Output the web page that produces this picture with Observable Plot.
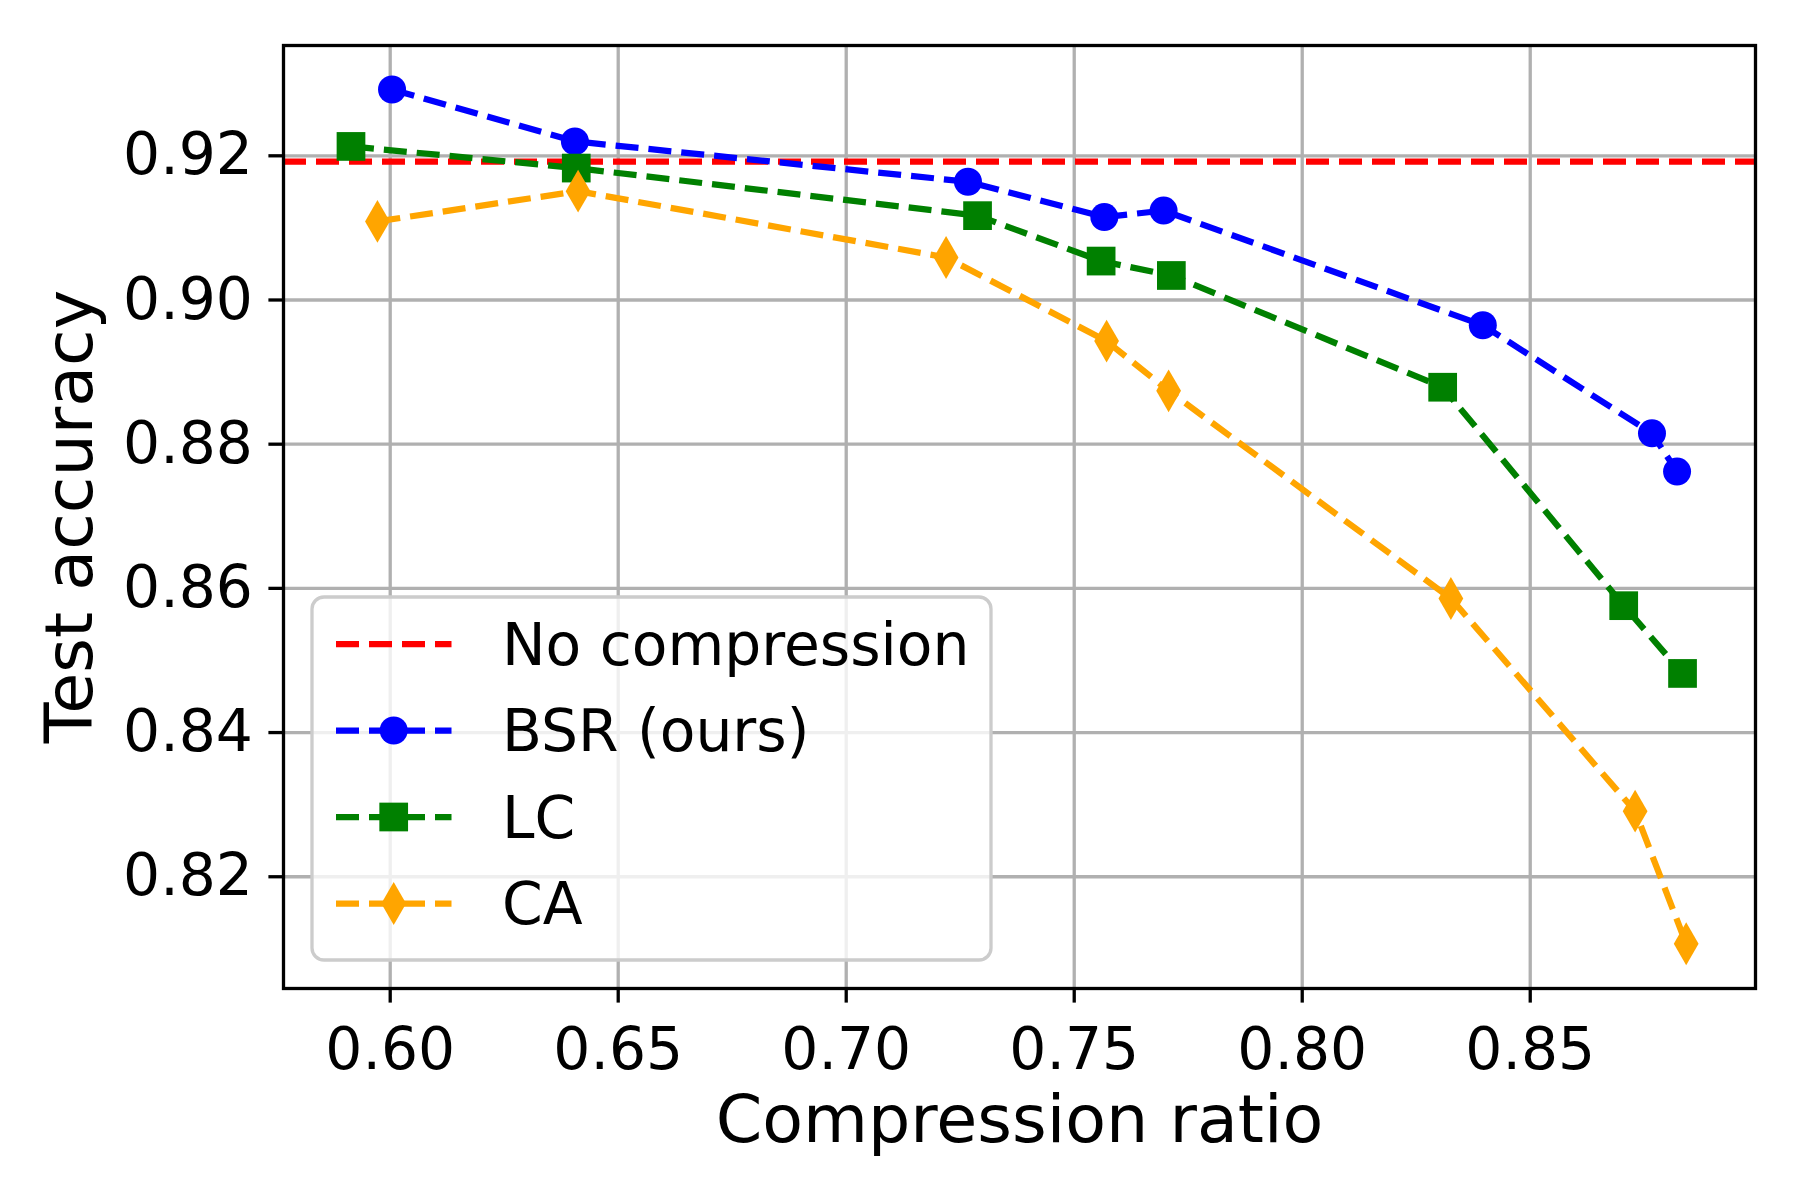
<!DOCTYPE html>
<html>
<head>
<meta charset="utf-8">
<script src="https://cdn.jsdelivr.net/npm/d3@7"></script>
<script src="https://cdn.jsdelivr.net/npm/@observablehq/plot@0.6"></script>
<style>
  html, body { margin: 0; padding: 0; background: #ffffff; }
  #chart { width: 1800px; height: 1200px; }
</style>
</head>
<body>
<div id="chart"></div>
<script>
// ---- Data ----
const seriesNames = ["BSR (ours)", "LC", "CA"];
const baselineName = "No compression";

const bsrX = [0.6004, 0.6405, 0.7267, 0.7566, 0.7696, 0.8396, 0.8767, 0.8822];
const bsrY = [0.9292, 0.9220, 0.9164, 0.9115, 0.9124, 0.8965, 0.8815, 0.8762];

const lcX = [0.5914, 0.6408, 0.7288, 0.7559, 0.7713, 0.8308, 0.8705, 0.8834];
const lcY = [0.9213, 0.9183, 0.9117, 0.9054, 0.9034, 0.8879, 0.8576, 0.8482];

const caX = [0.5972, 0.6412, 0.7219, 0.7571, 0.7707, 0.8326, 0.8730, 0.8842];
const caY = [0.9109, 0.9151, 0.9059, 0.8943, 0.8874, 0.8586, 0.8291, 0.8107];

const baselineY = 0.9192;

const xTicks = [0.60, 0.65, 0.70, 0.75, 0.80, 0.85];
const yTicks = [0.82, 0.84, 0.86, 0.88, 0.90, 0.92];

const xLabel = "Compression ratio";
const yLabel = "Test accuracy";

// ---- Styles ----
const colors = {"BSR (ours)": "#0000ff", "LC": "#008000", "CA": "#ffa500"};
const symbols = {"BSR (ours)": "circle", "LC": "square", "CA": "diamond"};
const radii = {"BSR (ours)": 14, "LC": 16.2, "CA": 13};
const d3Symbols = {"circle": d3.symbolCircle, "square": d3.symbolSquare, "diamond": d3.symbolDiamond};
const lineW = 6.25;
const dash = "23,10";
const tickFont = 58.3;
const labelFont = 66.7;

const zip = (xs, ys) => xs.map((x, i) => ({x, y: ys[i]}));
const series = [
  {name: seriesNames[0], data: zip(bsrX, bsrY)},
  {name: seriesNames[1], data: zip(lcX, lcY)},
  {name: seriesNames[2], data: zip(caX, caY)}
];

// ---- Y axis label (rotated, centred on the frame) ----
function yLabelMark(index, scales, values, dims) {
  const cy = (dims.marginTop + dims.height - dims.marginBottom) / 2;
  const g = d3.create("svg:g");
  g.append("text")
    .attr("transform", `translate(${dims.marginLeft - 191},${cy}) rotate(-90)`)
    .attr("text-anchor", "middle")
    .attr("font-size", labelFont)
    .attr("fill", "black")
    .text(yLabel);
  return g.node();
}

// ---- Legend drawn inside the frame (lower-left) ----
function legendMark(index, scales, values, dims) {
  const left = dims.marginLeft;
  const bottom = dims.height - dims.marginBottom;
  const bw = 679, bh = 363;
  const bx = left + 29, by = bottom - 28 - bh;
  const g = d3.create("svg:g");
  g.append("rect")
    .attr("x", bx).attr("y", by).attr("width", bw).attr("height", bh)
    .attr("rx", 12).attr("ry", 12)
    .attr("fill", "white").attr("fill-opacity", 0.8)
    .attr("stroke", "#cccccc").attr("stroke-width", 3.3);
  const entries = [
    {name: baselineName, color: "#ff0000", symbol: null, r: 0},
    ...seriesNames.map(n => ({name: n, color: colors[n], symbol: symbols[n], r: radii[n]}))
  ];
  const rowY = [47, 133.5, 220, 306.5];
  entries.forEach((e, i) => {
    const cy = by + rowY[i];
    const hx0 = bx + 24, hx1 = bx + 139.5, mx = bx + 81.7;
    g.append("line")
      .attr("x1", hx0).attr("x2", hx1).attr("y1", cy).attr("y2", cy)
      .attr("stroke", e.color).attr("stroke-width", lineW)
      .attr("stroke-dasharray", dash).attr("stroke-linecap", "butt");
    if (e.symbol) {
      g.append("path")
        .attr("d", d3.symbol(d3Symbols[e.symbol], e.r * e.r * Math.PI)())
        .attr("transform", `translate(${mx},${cy})`)
        .attr("fill", e.color);
    }
    g.append("text")
      .attr("x", bx + 190).attr("y", cy).attr("dy", "0.36em")
      .attr("text-anchor", "start")
      .attr("font-size", tickFont).attr("fill", "black")
      .text(e.name);
  });
  return g.node();
}

const marks = [
  Plot.gridX(xTicks, {stroke: "#b0b0b0", strokeOpacity: 1, strokeWidth: 3.3}),
  Plot.gridY(yTicks, {stroke: "#b0b0b0", strokeOpacity: 1, strokeWidth: 3.3}),
  Plot.ruleY([baselineY], {stroke: "#ff0000", strokeWidth: lineW, strokeDasharray: dash, strokeLinecap: "butt"})
];
for (const s of series) {
  marks.push(Plot.line(s.data, {x: d => d.x, y: d => d.y, stroke: colors[s.name], strokeWidth: lineW,
    strokeDasharray: dash, strokeLinecap: "butt", strokeLinejoin: "miter"}));
  marks.push(Plot.dot(s.data, {x: d => d.x, y: d => d.y, symbol: symbols[s.name], r: radii[s.name],
    fill: colors[s.name], stroke: "none"}));
}
marks.push(
  Plot.frame({stroke: "black", strokeWidth: 3.3}),
  Plot.axisX(xTicks, {tickFormat: d3.format(".2f"), fontSize: tickFont, tickSize: 14.6, tickPadding: 24,
    strokeWidth: 3.3, label: null}),
  Plot.axisY(yTicks, {tickFormat: d3.format(".2f"), fontSize: tickFont, tickSize: 14.6, tickPadding: 16,
    strokeWidth: 3.3, label: null}),
  Plot.text([xLabel], {text: d => d, frameAnchor: "bottom", dy: 153, lineAnchor: "bottom", fontSize: labelFont, fill: "black"}),
  yLabelMark,
  legendMark
);

const chart = Plot.plot({
  width: 1800,
  height: 1200,
  marginLeft: 283,
  marginRight: 45,
  marginTop: 45,
  marginBottom: 212,
  x: {domain: [0.5766, 0.8994]},
  y: {domain: [0.8045, 0.9353]},
  style: {fontFamily: "'DejaVu Sans', sans-serif", color: "black", background: "white", overflow: "visible"},
  marks
});
document.getElementById("chart").appendChild(chart);
</script>
</body>
</html>
